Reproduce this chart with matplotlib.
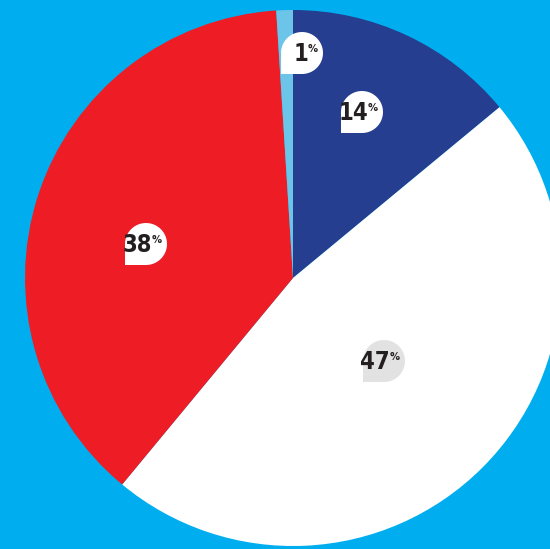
import matplotlib
matplotlib.use('Agg')
import matplotlib.pyplot as plt
from matplotlib.patches import Polygon
from matplotlib import font_manager
import numpy as np

# valores do gráfico (sentido horário a partir do topo)
shares = [14, 47, 38, 1]
colors = ['#253E8F', '#FFFFFF', '#EE1D25', '#6CC4E8']
labels = ['14', '47', '38', '1']
bubble_colors = ['#FFFFFF', '#E2E2E2', '#FFFFFF', '#FFFFFF']
# posições dos balões em pixels da imagem (x, y a partir do topo)
bubble_pos = [(362, 112), (384, 361), (146, 244), (302, 53)]

W, H = 550, 549
BG = '#00AEEF'

print(sorted({f.name for f in font_manager.fontManager.ttflist}))
print([ (f.name, f.stretch, f.weight) for f in font_manager.fontManager.ttflist if 'DejaVu Sans' in f.name])

fig = plt.figure(figsize=(W / 100, H / 100), dpi=100)
fig.patch.set_facecolor(BG)
ax = fig.add_axes([0, 0, 1, 1])

ax.pie(shares, colors=colors, startangle=90, counterclock=False,
       center=(293, H - 278), radius=268,
       wedgeprops=dict(linewidth=0))

ax.set_xlim(0, W)
ax.set_ylim(0, H)
ax.set_aspect('equal')
ax.axis('off')


def bubble(cx, cy, r, color):
    # círculo com o canto inferior esquerdo em ponta
    t1 = np.linspace(-np.pi / 2, np.pi, 60)
    pts = [(cx + r * np.cos(t), cy + r * np.sin(t)) for t in t1]
    pts.append((cx - r, cy - r))
    poly = Polygon(pts, closed=True, facecolor=color, edgecolor='none', zorder=5)
    ax.add_patch(poly)


for lab, col, (x, y) in zip(labels, bubble_colors, bubble_pos):
    cy = H - y
    bubble(x, cy, 21, col)
    ax.text(x + 6, cy - 1, lab, ha='right', va='center', fontsize=17,
            fontweight='bold', fontstretch='condensed', color='#231F20',
            family='DejaVu Sans', zorder=6)
    ax.text(x + 6, cy + 9, '%', ha='left', va='top', fontsize=8,
            fontweight='bold', fontstretch='condensed', color='#231F20',
            family='DejaVu Sans', zorder=6)

plt.savefig('out.png', dpi=100, facecolor=BG)
plt.close()
